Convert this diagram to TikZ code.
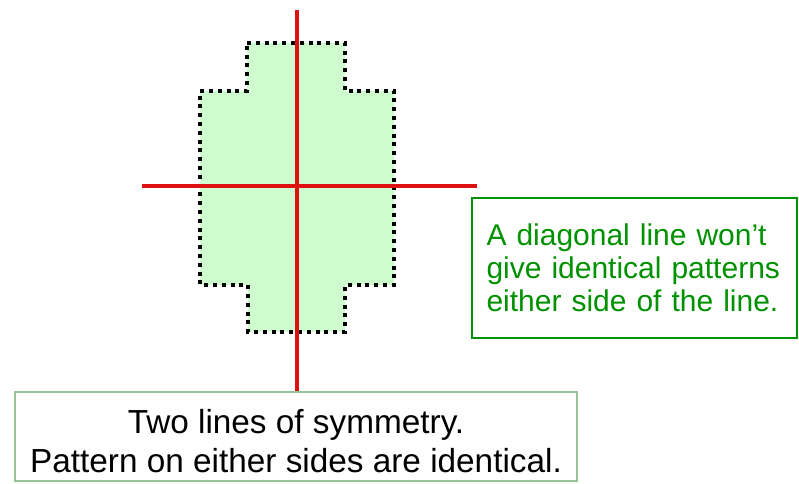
\documentclass[tikz,border=0pt]{standalone}
\usepackage{fontspec}
\setmainfont{Liberation Sans}
\usepackage{xcolor}
\usepackage{tikz}
\usetikzlibrary{positioning, calc}

\definecolor{shapefill}{RGB}{206,252,206}
\definecolor{symred}{RGB}{222,16,16}
\definecolor{notegreen}{RGB}{0,145,0}
\definecolor{captionedge}{RGB}{150,196,150}

\begin{document}
\begin{tikzpicture}[
      x=0.75pt, y=-0.75pt,
      outline/.style={draw=black, line width=3pt, dash pattern=on 3pt off 3.6pt, fill=shapefill},
      symline/.style={draw=symred, line width=2.4pt},
      notebox/.style={draw=notegreen, line width=2.2pt, text=notegreen, align=left, text width=222pt, inner xsep=10pt, minimum width=243.75pt, minimum height=105pt, font=\fontsize{22.5}{24.6}\selectfont},
      captionbox/.style={draw=captionedge, line width=1.4pt, align=center, text height=53.5pt, text depth=0pt, minimum width=421.5pt, minimum height=66.75pt, font=\fontsize{25}{29.25}\selectfont}
    ]
      \useasboundingbox (0,0) rectangle (799,484);

      % the cross shaped pattern
      \path[outline] (247,43) -- (345,43) -- (345,91) -- (394,91) -- (394,285) -- (345,285)
        -- (345,332) -- (248,332) -- (248,285) -- (200,285) -- (200,91) -- (247,91) -- cycle;

      \node[captionbox] (caption) at (296,436.5) {Two lines of symmetry.\\Pattern on either sides are identical.};
      \node[notebox] (note) at (634.5,268) {A diagonal line won’t\\give identical patterns\\either side of the line.};

      % lines of symmetry
      \coordinate (vtop) at (297,10);
      \coordinate (hleft) at (142,186);
      \coordinate (hright) at (477,186);
      \draw[symline] (vtop) -- (vtop |- caption.north);
      \draw[symline] (hleft) -- (hright);
    \end{tikzpicture}
\end{document}
